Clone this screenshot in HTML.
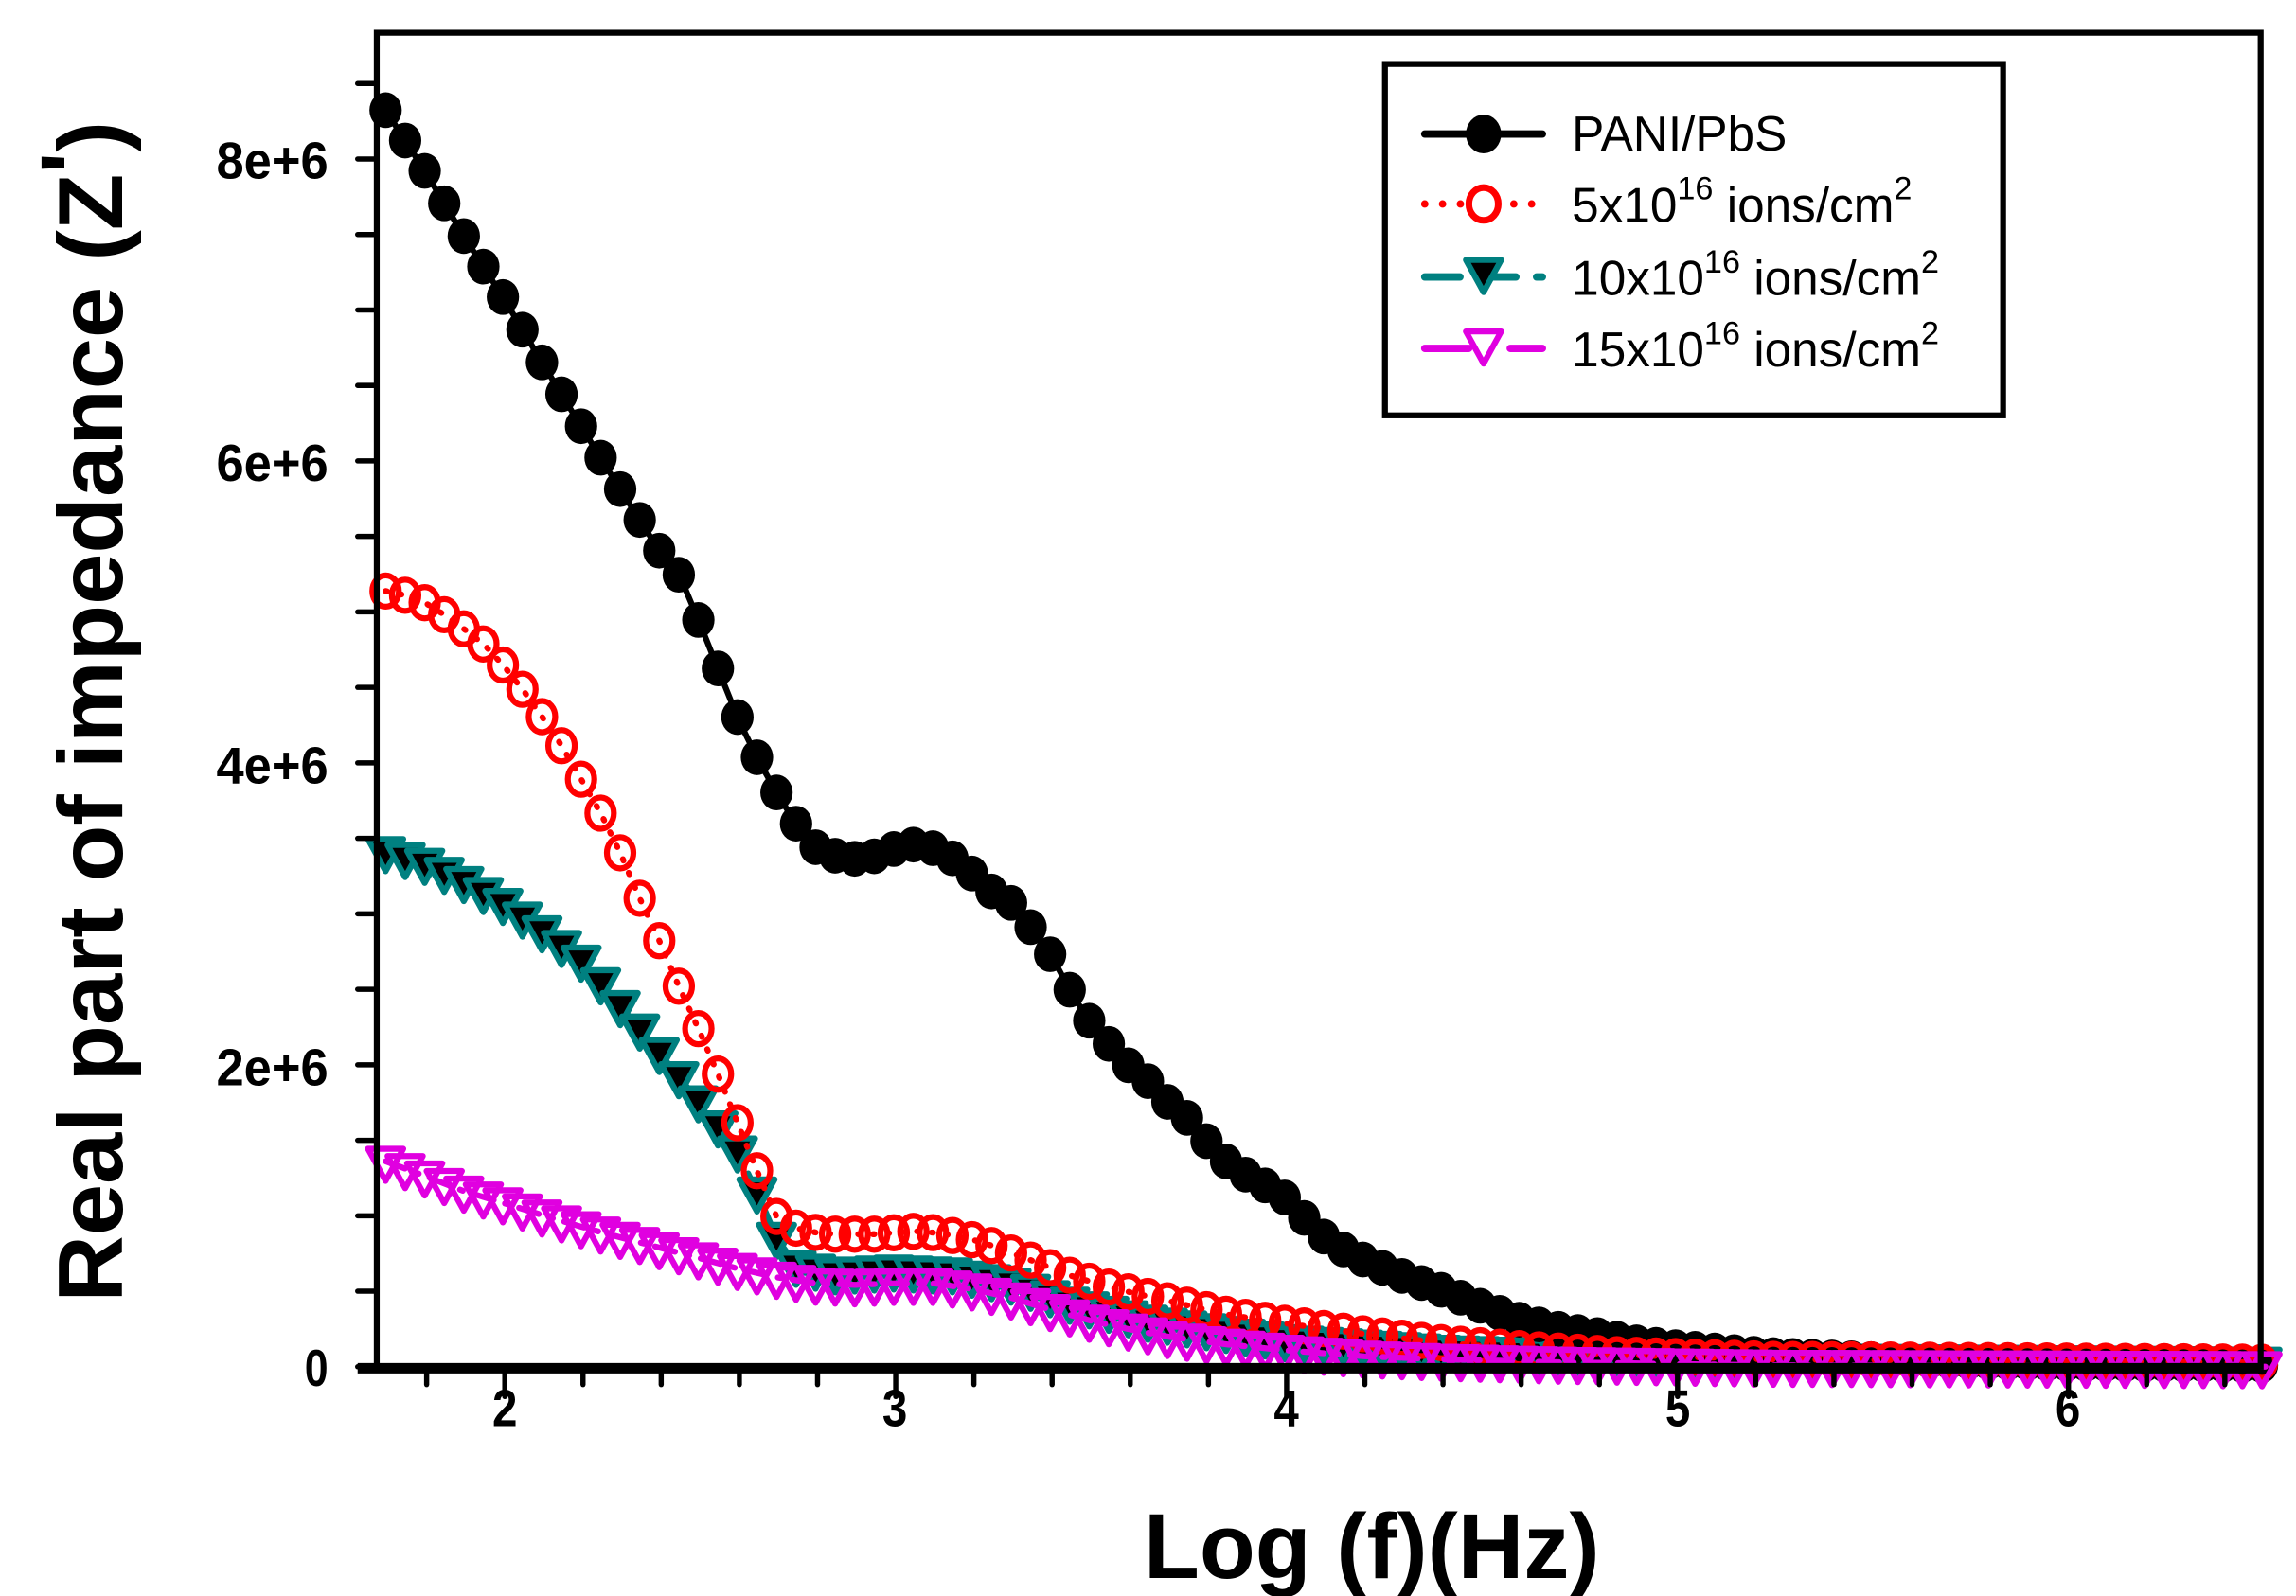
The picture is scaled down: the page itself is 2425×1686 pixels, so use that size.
<!DOCTYPE html>
<html><head><meta charset="utf-8"><style>
html,body{margin:0;padding:0;background:#fff;}
svg{display:block;}
text{font-family:"Liberation Sans",Arial,sans-serif;}
</style></head><body>
<svg id="s" width="2425" height="1686" viewBox="0 0 1560 1072" preserveAspectRatio="none" xmlns="http://www.w3.org/2000/svg">
<rect width="1560" height="1072" fill="#fff"/>
<g id="data"></g>
<rect x="256" y="22" width="1280" height="896" fill="none" stroke="#000" stroke-width="4"/>
<line x1="243" y1="919" x2="1536" y2="919" stroke="#000" stroke-width="7"/>
<g id="ticks" stroke="#000" stroke-width="3.5" stroke-linecap="round"></g>
<g font-weight="bold" font-size="35" text-anchor="end">
<text x="223" y="931" textLength="16" lengthAdjust="spacingAndGlyphs">0</text>
<text x="223" y="729" textLength="76" lengthAdjust="spacingAndGlyphs">2e+6</text>
<text x="223" y="526" textLength="76" lengthAdjust="spacingAndGlyphs">4e+6</text>
<text x="223" y="323" textLength="76" lengthAdjust="spacingAndGlyphs">6e+6</text>
<text x="223" y="120" textLength="76" lengthAdjust="spacingAndGlyphs">8e+6</text>
</g>
<g font-weight="bold" font-size="35" text-anchor="middle">
<text x="343" y="958" textLength="17" lengthAdjust="spacingAndGlyphs">2</text>
<text x="608" y="958" textLength="17" lengthAdjust="spacingAndGlyphs">3</text>
<text x="874" y="958" textLength="17" lengthAdjust="spacingAndGlyphs">4</text>
<text x="1140" y="958" textLength="17" lengthAdjust="spacingAndGlyphs">5</text>
<text x="1405" y="958" textLength="17" lengthAdjust="spacingAndGlyphs">6</text>
</g>
<text x="932" y="1060" font-weight="bold" font-size="62" text-anchor="middle">Log (f)(Hz)</text>
<text transform="translate(83,478) rotate(-90)" font-weight="bold" font-size="62" text-anchor="middle">Real part of impedance (Z<tspan dy="-12">'</tspan><tspan dy="12">)</tspan></text>
<rect x="941" y="43" width="420" height="236" fill="#fff" stroke="#000" stroke-width="4"/>
<g id="leg"></g>
<g font-size="33">
<text x="1068" y="101">PANI/PbS</text>
<text x="1068" y="149">5x10<tspan font-size="22" dy="-15">16</tspan><tspan dy="15"> ions/cm</tspan><tspan font-size="22" dy="-15">2</tspan></text>
<text x="1068" y="198">10x10<tspan font-size="22" dy="-15">16</tspan><tspan dy="15"> ions/cm</tspan><tspan font-size="22" dy="-15">2</tspan></text>
<text x="1068" y="246">15x10<tspan font-size="22" dy="-15">16</tspan><tspan dy="15"> ions/cm</tspan><tspan font-size="22" dy="-15">2</tspan></text>
</g>
</svg>
<script>
const NS="http://www.w3.org/2000/svg";
function el(t,a,p){const e=document.createElementNS(NS,t);for(const k in a)e.setAttribute(k,a[k]);p.appendChild(e);return e;}
const tk=document.getElementById('ticks');
for(let i=0;i<=17;i++){const y=918-i*50.7;if(y<25)break;el('line',{x1:243,y1:y,x2:256,y2:y},tk);}
for(let v=1.8;v<=6.5;v+=0.2){const x=343+(v-2)*265.6;const maj=Math.abs(v-Math.round(v))<0.01;el('line',{x1:x,y1:918,x2:x,y2:maj?938:930},tk);}
function interp(pts,x){for(let i=0;i<pts.length-1;i++){if(x>=pts[i][0]&&x<=pts[i+1][0]){const t=(x-pts[i][0])/(pts[i+1][0]-pts[i][0]);return pts[i][1]+t*(pts[i+1][1]-pts[i][1]);}}return pts[pts.length-1][1];}
function sample(pts,xmax){const r=[];for(let x=262;x<=(xmax||1537);x+=13.28)r.push([x,interp(pts,x)]);return r;}
const black=[[262,74],[290,117],[316,160],[342,200],[368,243],[394,285],[421,328],[448,370],[462,387],[476,420],[489,452],[502,484],[515,510],[528,533],[542,555],[555,570],[568,575],[582,577],[595,575],[608,570],[622,567],[635,570],[648,577],[662,588],[675,600],[688,607],[702,625],[715,643],[728,667],[741,687],[755,703],[768,717],[781,727],[795,742],[808,752],[821,768],[835,782],[848,790],[861,797],[874,805],[888,820],[901,832],[914,840],[928,847],[955,858],[981,867],[1008,878],[1034,887],[1061,893],[1087,897],[1114,902],[1140,905],[1200,910],[1300,914],[1400,916],[1540,917]];
const red=[[262,397],[276,400],[289,405],[302,413],[316,423],[329,433],[342,447],[355,463],[368,481],[381,500],[394,522],[408,546],[421,572],[434,602],[448,632],[461,662],[475,692],[488,722],[501,754],[515,788],[528,818],[541,825],[555,828],[568,829],[581,829],[595,829],[608,828],[622,827],[635,828],[648,830],[662,833],[675,837],[688,842],[702,847],[715,852],[728,857],[755,865],[781,871],[808,877],[834,883],[874,889],[927,896],[981,902],[1034,906],[1100,910],[1200,913],[1540,915]];
const teal=[[262,572],[289,580],[315,592],[342,607],[368,625],[395,645],[421,675],[448,707],[475,740],[501,773],[515,802],[528,832],[541,850],[568,855],[608,853],[648,855],[688,862],[728,875],[781,887],[874,900],[981,907],[1140,912],[1540,915]];
const mag=[[262,780],[289,790],[315,800],[342,808],[368,816],[395,824],[421,831],[448,838],[475,845],[501,852],[528,858],[555,862],[581,863],[608,862],[635,862],[662,866],[688,872],[715,880],[741,887],[768,893],[795,898],[834,903],[874,907],[927,911],[981,913],[1061,915],[1200,917],[1540,918]];
const g=document.getElementById('data');
function line(pts,color,dash,w){el('polyline',{points:pts.map(p=>p.join(',')).join(' '),fill:'none',stroke:color,'stroke-width':w||4,'stroke-dasharray':dash||'none','stroke-linecap':'round'},g);}
function tri(x,y,fill,stroke,p){const s=12;el('polygon',{points:`${x-s},${y-s*0.7} ${x+s},${y-s*0.7} ${x},${y+s*1.1}`,fill:fill,stroke:stroke,'stroke-width':4,'stroke-linejoin':'round'},p);}
const tp=sample(teal);line(teal,'#008080','14,10');
tp.forEach(p=>tri(p[0],p[1],'#000','#008080',g));
line(black,'#000');
sample(black).forEach(p=>el('ellipse',{cx:p[0],cy:p[1],rx:11,ry:12,fill:'#000'},g));
line(red,'#f00','1,9');
sample(red).forEach(p=>el('ellipse',{cx:p[0],cy:p[1],rx:9,ry:10.5,fill:'none',stroke:'#f00','stroke-width':4},g));
line(mag,'#e000e0','14,8,2,8');
sample(mag).forEach(p=>tri(p[0],p[1],'none','#e000e0',g));
const L=document.getElementById('leg');
function ll(y,c,d){el('line',{x1:968,y1:y,x2:1048,y2:y,stroke:c,'stroke-width':5,'stroke-dasharray':d||'none','stroke-linecap':'round'},L);}
ll(90,'#000');el('ellipse',{cx:1008,cy:90,rx:12,ry:13,fill:'#000'},L);
ll(137,'#f00','0.1,12');el('ellipse',{cx:1008,cy:137,rx:10,ry:11,fill:'#fff',stroke:'#f00','stroke-width':4.5},L);
ll(186,'#008080','24,14');tri(1008,183,'#000','#008080',L);
ll(234,'#e000e0','30,14,0.1,14');tri(1008,231,'#fff','#e000e0',L);
</script>
</body></html>
